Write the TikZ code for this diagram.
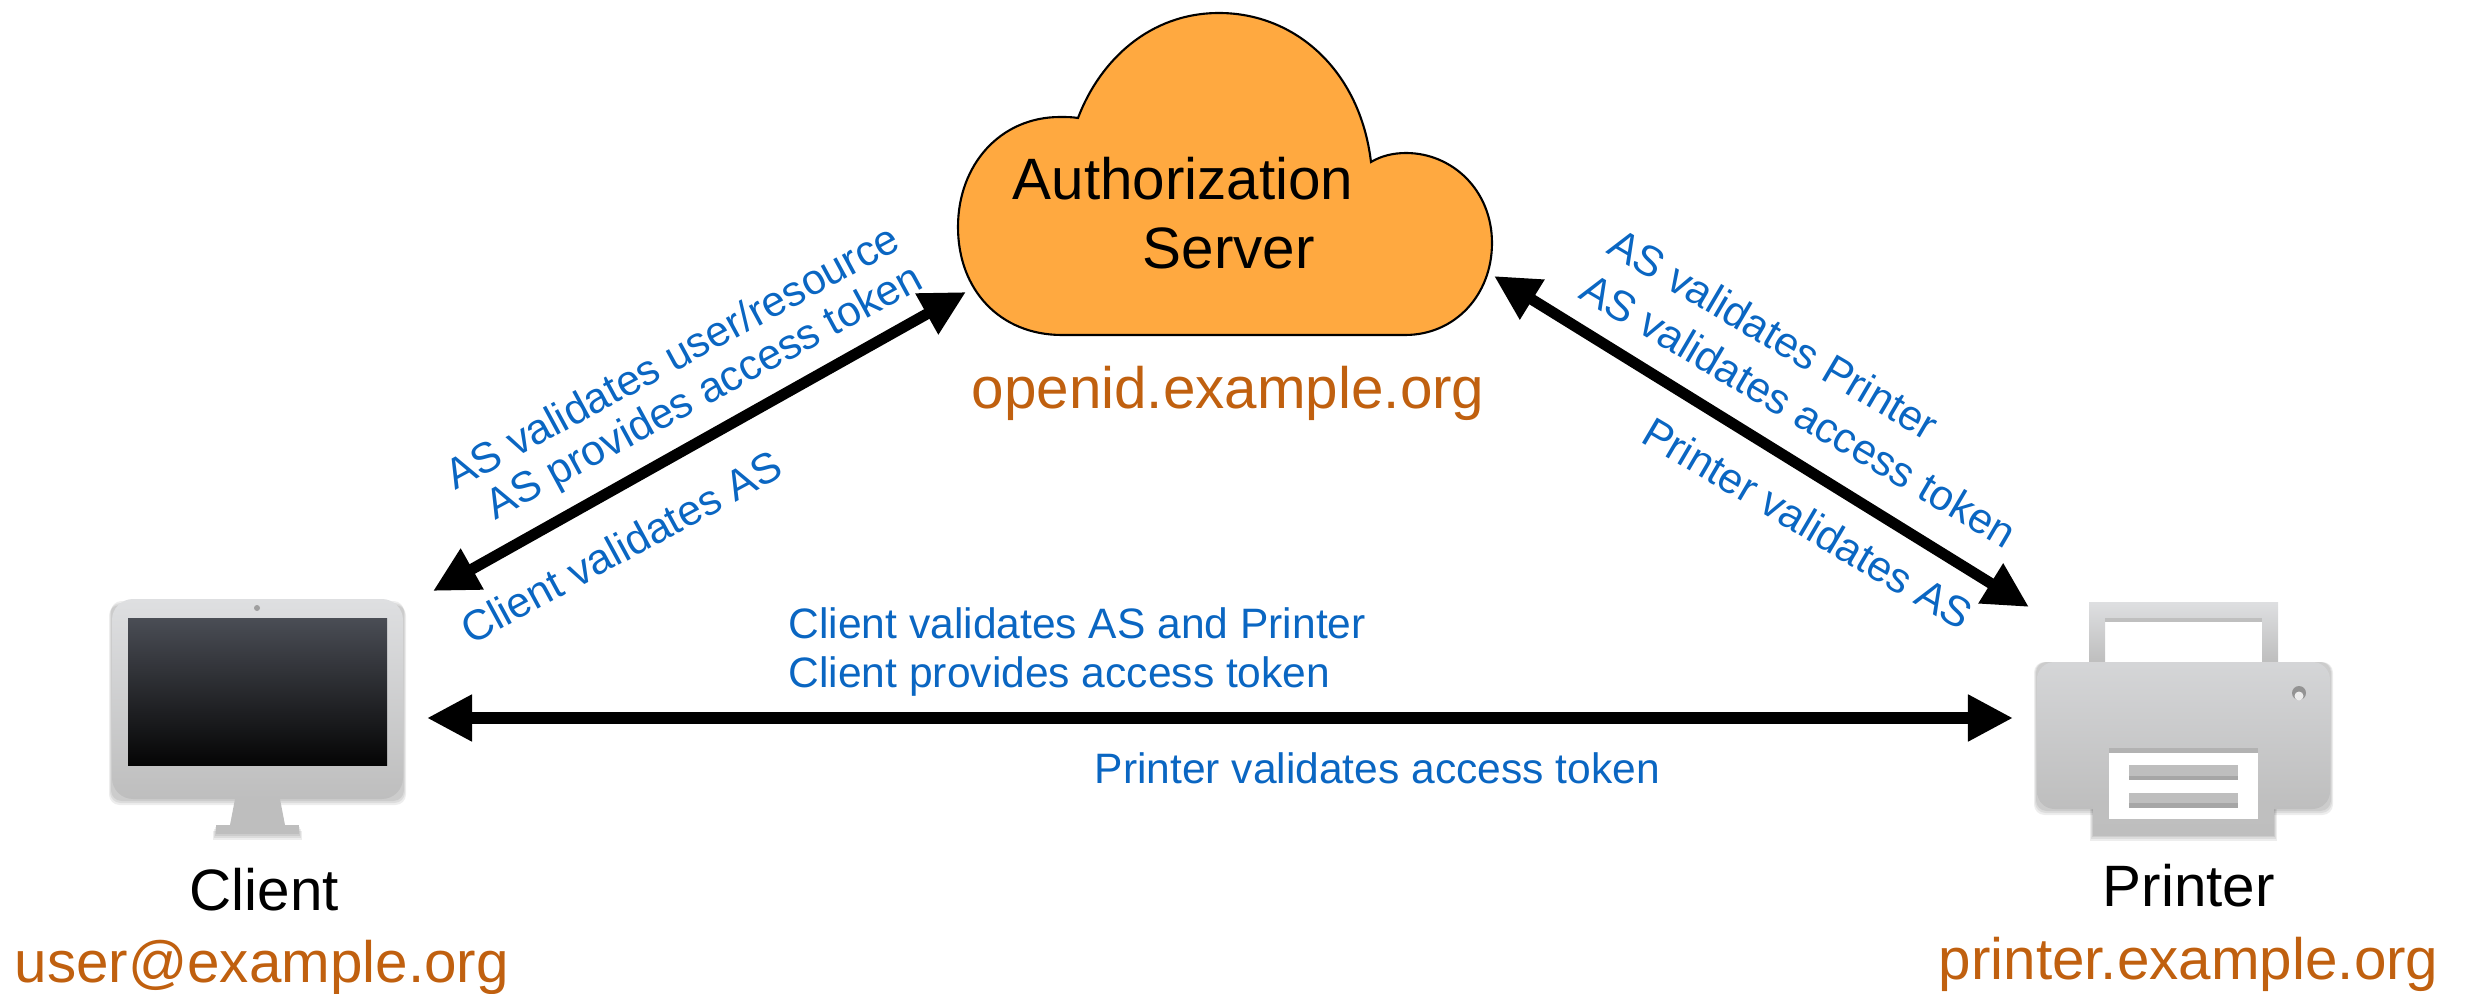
\documentclass[tikz,border=0pt]{standalone}
\usepackage{fontspec}
\setmainfont{Liberation Sans}
\usetikzlibrary{arrows.meta}
\definecolor{cloudfill}{HTML}{FFA940}
\definecolor{bluetxt}{HTML}{0A66C2}
\definecolor{orangetxt}{HTML}{C0600F}
\definecolor{graytop}{HTML}{DEDFE1}
\definecolor{graybot}{HTML}{BEBEBE}
\definecolor{screentop}{HTML}{4A4D55}
\definecolor{screenbot}{HTML}{050505}
\tikzset{
  x=0.01cm,y=-0.01cm,
  bigtxt/.style={font=\fontsize{16.6}{20}\selectfont,inner sep=0,anchor=base west,text=black},
  domaintxt/.style={bigtxt,text=orangetxt},
  note/.style={font=\fontsize{12.1}{15}\selectfont,inner sep=0,text=bluetxt},
  flow/.style={line width=0.11cm,{Triangle[length=0.45cm,width=0.44cm]}-{Triangle[length=0.45cm,width=0.44cm]}},
  metal/.style={top color=graytop,bottom color=graybot,draw=none},
  shade1/.style={fill=black,fill opacity=0.07,draw=none},
}
\begin{document}
\begin{tikzpicture}
\useasboundingbox (0,0) rectangle (2471,994);
% cloud
\draw[fill=cloudfill,draw=black,line width=0.6pt] (1062,335) -- (1405,335)
  .. controls (1455,335) and (1492,295) .. (1492,243)
  .. controls (1492,190) and (1452,153) .. (1406,153)
  .. controls (1393,153) and (1381,156) .. (1371,162)
  .. controls (1360,70) and (1295,13) .. (1219,13)
  .. controls (1150,13) and (1100,60) .. (1078,118)
  .. controls (1072,117) and (1066,117) .. (1060,117)
  .. controls (1000,117) and (958,165) .. (958,227)
  .. controls (958,290) and (1000,335) .. (1062,335) -- cycle;
\node[bigtxt] (authA) at (1012,200) {Authorization};
\node[bigtxt] (authB) at (1142,269) {Server};
\node[domaintxt] (authD) at (971,409) {openid.example.org};
% monitor
\foreach \d in {2,4,6}{
  \fill[shade1,rounded corners=3] (112-\d/2,599+\d) rectangle (403+\d/2,799+\d);
  \fill[shade1] (216-\d/2,825+\d) rectangle (299+\d/2,834+\d);
}
\fill[graybot] (235,799) -- (280,799) -- (285,825) -- (230,825) -- cycle;
\fill[graybot] (216,825) rectangle (299,834);
\path[metal,rounded corners=6] (112,599) rectangle (403,799);
\path[top color=screentop,bottom color=screenbot,draw=none] (128,618) rectangle (387,765);
\fill[gray!75] (257,608) circle (3);
% printer
\foreach \d in {2,4,6}{
  \fill[shade1,rounded corners=3] (2037-\d/2,662) rectangle (2330+\d/2,809+\d);
  \fill[shade1] (2093-\d/2,800) rectangle (2274+\d/2,835+\d);
}
\path[metal,even odd rule] (2089,602) rectangle (2278,662) (2105,618) rectangle (2262,662);
\path[top color=graytop!90!gray,bottom color=graybot,rounded corners=5] (2037,662) rectangle (2330,809);
\path[top color=graybot!98,bottom color=graybot] (2093,805) rectangle (2274,835);
\fill[white] (2109,748) rectangle (2258,819);
\fill[black!25] (2105,618) rectangle (2262,622);
\fill[black!30] (2109,748) rectangle (2258,753);
\fill[black!35] (2129,770) rectangle (2238,780);
\fill[black!35] (2129,798) rectangle (2238,808);
\fill[graybot] (2129,765) rectangle (2238,776);
\fill[graybot] (2129,793) rectangle (2238,803);
\fill[gray!85] (2299,693) circle (7);
\fill[white!85!gray] (2299,696) circle (4.5);
\node[bigtxt] (clientL) at (189,910) {Client};
\node[domaintxt] (clientD) at (14,982) {user@example.org};
\node[bigtxt] (printerL) at (2102,906) {Printer};
\node[domaintxt] (printerD) at (1938,979) {printer.example.org};
% connector ends
\coordinate (monR) at (427,718);
\coordinate (prnL) at (2013,718);
\coordinate (monT) at (433,591);
\coordinate (cldL) at (966,292);
\coordinate (cldR) at (1494,276);
\coordinate (prnT) at (2029,607);
\draw[flow] (monR) -- (prnL);
\draw[flow] (monT) -- (cldL);
\draw[flow] (cldR) -- (prnT);
% notes
\node[note,rotate=28.5] (n1) at (672,356) {AS validates user/resource};
\node[note,rotate=28.5] (n2) at (705,394) {AS provides access token};
\node[note,rotate=28.5] (n3) at (621,547) {Client validates AS};
\node[note,rotate=-30.5] (n4) at (1774,334) {AS validates Printer};
\node[note,rotate=-30.5] (n5) at (1799,410) {AS validates access token};
\node[note,rotate=-30.5] (n6) at (1808,523) {Printer validates AS};
\node[note,anchor=base west] (n7) at (788,639) {Client validates AS and Printer};
\node[note,anchor=base west] (n8) at (788,687) {Client provides access token};
\node[note,anchor=base west] (n9) at (1094,783) {Printer validates access token};
\end{tikzpicture}
\end{document}
